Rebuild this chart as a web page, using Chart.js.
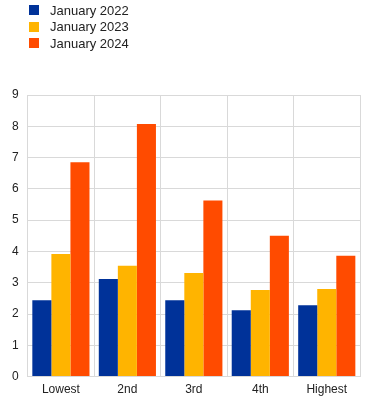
<!DOCTYPE html>
<html>
<head>
<meta charset="utf-8">
<script src="https://cdn.jsdelivr.net/npm/chart.js@4/dist/chart.umd.min.js"></script>
<style>
    body { margin: 0; background: #fff; font-family: "Liberation Sans", Arial, sans-serif; }
    #wrap { position: relative; width: 371px; height: 402px; overflow: hidden; }
    #legend { position: absolute; left: 29px; top: 2px; font-size: 13px; color: #222; }
    .item { height: 16.5px; display: flex; align-items: center; }
    .box { width: 10px; height: 10px; margin-right: 11px; }
    canvas { display: block; }
</style>
</head>
<body>
<div id="wrap">
    <div id="legend"></div>
    <canvas id="chart" width="371" height="402"></canvas>
</div>
<script>
const categories = ["Lowest", "2nd", "3rd", "4th", "Highest"];
const seriesNames = ["January 2022", "January 2023", "January 2024"];
const jan2022 = [2.44, 3.12, 2.44, 2.12, 2.28];
const jan2023 = [3.92, 3.54, 3.31, 2.77, 2.80];
const jan2024 = [6.85, 8.07, 5.63, 4.50, 3.86];
const colors = ["#003299", "#FFB400", "#FF4B00"];

const values = [jan2022, jan2023, jan2024];

// simple legend, one row per series
const legend = document.getElementById('legend');
seriesNames.forEach((name, i) => {
    const row = document.createElement('div');
    row.className = 'item';
    row.innerHTML = `<span class="box" style="background:${colors[i]}"></span>${name}`;
    legend.appendChild(row);
});

const ctx = document.getElementById('chart').getContext('2d');
const chart = new Chart(ctx, {
    type: 'bar',
    data: {
        labels: categories,
        datasets: seriesNames.map((name, i) => ({
            label: name,
            data: values[i],
            backgroundColor: colors[i],
            borderWidth: 0,
            categoryPercentage: 0.86,
            barPercentage: 1
        }))
    },
    options: {
        responsive: false,
        animation: false,
        layout: { padding: { top: 95, left: 3, right: 11, bottom: -1 } },
        plugins: {
            legend: { display: false },
            tooltip: { enabled: false }
        },
        scales: {
            x: {
                grid: { color: '#d9d9d9', offset: true, drawTicks: false },
                border: { color: '#d9d9d9' },
                ticks: { color: '#222', font: { family: 'Liberation Sans', size: 12 }, padding: 6 }
            },
            y: {
                min: 0,
                max: 9,
                ticks: { stepSize: 1, color: '#222', font: { family: 'Liberation Sans', size: 12 }, padding: 9 },
                grid: { color: '#d9d9d9', drawTicks: false },
                border: { color: '#d9d9d9' }
            }
        }
    }
});
</script>
</body>
</html>
